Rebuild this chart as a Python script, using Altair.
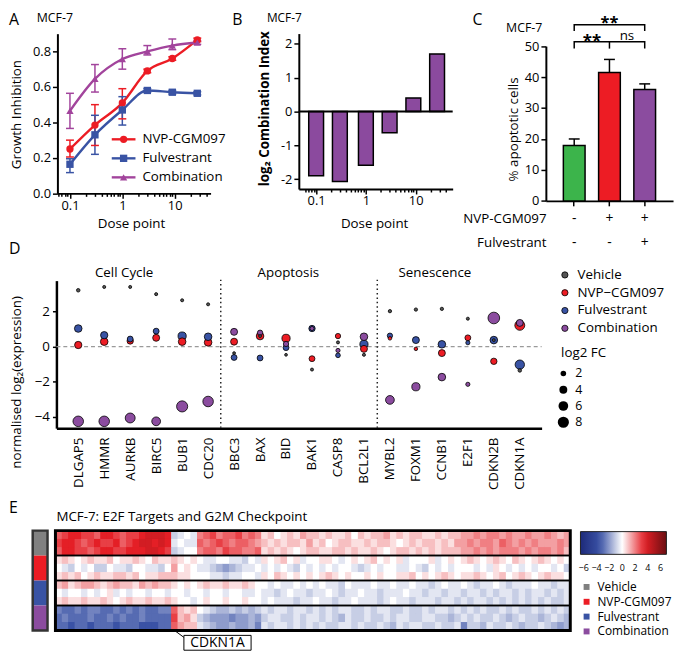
import altair as alt
import pandas as pd

OFF = 8
W, H = 677, 650
FONT = "Open Sans"


def P(v):
    return v - OFF


# ---------------- Panel A data ----------------
dose = [0.1, 0.3, 1, 3, 9, 27]
series = ["NVP-CGM097", "Fulvestrant", "Combination"]
series_colors = ["#ec1c24", "#3953a4", "#a2449c"]
series_shapes = ["circle", "square", "triangle-up"]
gi_nvp = [0.25, 0.385, 0.51, 0.69, 0.76, 0.865]
gi_nvp_lo = [0.205, 0.27, 0.42, 0.68, 0.75, 0.855]
gi_nvp_hi = [0.30, 0.50, 0.59, 0.70, 0.77, 0.875]
gi_ful = [0.164, 0.33, 0.47, 0.58, 0.57, 0.564]
gi_ful_lo = [0.117, 0.22, 0.385, 0.57, 0.56, 0.555]
gi_ful_hi = [0.195, 0.44, 0.545, 0.59, 0.58, 0.573]
gi_com = [0.465, 0.645, 0.757, 0.80, 0.833, 0.85]
gi_com_lo = [0.366, 0.571, 0.70, 0.78, 0.81, 0.84]
gi_com_hi = [0.564, 0.726, 0.815, 0.833, 0.87, 0.86]

# ---------------- Panel B data ----------------
ci_dose = [0.1, 0.3, 1, 3, 9, 27]
log2_ci = [-1.90, -2.07, -1.59, -0.63, 0.40, 1.70]

# ---------------- Panel C data ----------------
apo_groups = ["Vehicle", "NVP-CGM097", "Combination"]
apo_mean = [17.9, 41.5, 36.0]
apo_hi = [20.0, 45.7, 37.8]
apo_colors = ["#3cb44b", "#ed1c24", "#8b4c9f"]
nvp_sign = ["-", "+", "+"]
ful_sign = ["-", "-", "+"]
br_id = [0, 0, 0, 0, 1, 1, 1, 1]
br_group = ["Vehicle", "Vehicle", "Combination", "Combination",
            "Vehicle", "Vehicle", "Combination", "Combination"]
br_y = [54.9, 56.9, 56.9, 54.9, 49.2, 51.4, 51.4, 49.2]
br_ord = [0, 1, 2, 3, 0, 1, 2, 3]

# ---------------- Panel D data ----------------
genes = ["DLGAP5", "HMMR", "AURKB", "BIRC5", "BUB1", "CDC20",
         "BBC3", "BAX", "BID", "BAK1", "CASP8", "BCL2L1",
         "MYBL2", "FOXM1", "CCNB1", "E2F1", "CDKN2B", "CDKN1A"]
cond_d = ["Vehicle", "NVP\u2212CGM097", "Fulvestrant", "Combination"]
cond_d_colors = ["#555555", "#ed1c24", "#3953a4", "#8b4c9f"]
veh_expr = [3.21, 3.40, 3.40, 2.99, 2.64, 2.41, -0.37, 0.60, -0.47, -1.31, 0.24, -0.47,
            2.02, 2.11, 2.15, 1.59, 0.37, -1.36]
veh_fc = [0.8, 0.6, 0.6, 0.6, 0.6, 0.6, 0.5, 0.5, 0.5, 0.6, 0.6, 0.6,
          0.7, 0.7, 0.7, 0.6, 0.5, 0.8]
nvp_expr = [0.09, 0.28, 0.32, 0.50, 0.28, 0.24, 0.28, 0.60, 0.47, -0.69, 0.60, -0.13,
            0.47, -0.13, -0.37, 0.50, -0.84, 1.21]
nvp_fc = [3.4, 3.7, 2.6, 3.1, 3.7, 3.7, 3.1, 3.7, 4.3, 2.2, 1.8, 3.1,
          0.8, 0.8, 3.1, 2.2, 2.6, 6.3]
ful_expr = [1.03, 0.65, 0.43, 0.88, 0.60, 0.56, -0.62, -0.65, -0.06, 1.03, -0.50, 0.13,
            0.62, 0.37, 0.13, 0.22, 0.37, -1.03]
ful_fc = [3.7, 3.4, 2.2, 2.2, 4.3, 3.7, 2.2, 2.2, 2.2, 2.6, 1.4, 4.3,
          1.8, 3.1, 3.7, 1.1, 3.7, 5.6]
com_expr = [-4.26, -4.26, -4.07, -4.26, -3.41, -3.13, 0.84, 0.79, 0.15, 1.03, -0.22, 0.56,
            -3.04, -2.29, -1.74, -2.15, 1.63, 1.35]
com_fc = [7.1, 7.1, 6.3, 4.9, 7.9, 7.1, 3.1, 1.8, 1.8, 1.1, 1.1, 3.7,
          4.9, 4.3, 3.7, 1.1, 8.7, 3.1]
size_legend_values = [2, 4, 6, 8]

# ---------------- Panel E data ----------------
# one letter per gene column, a=-4 ... i=0 ... q=+4 (steps of 0.5)
heat_vehicle_1 = "noppoonpponoopqqqp g hih mnomnnomnm jkijkjlk kjkjjkik jkkljkjk kjjkjkkl lmlmmlml lmllmlkl"
heat_vehicle_2 = "opponopoopnopqqpqp h ihh nmnonmnnml kjkjkkjl jkijkkjj kjkkjijk jkkjkjll mlmmlnml mlmlllml"
heat_vehicle_3 = "nppoonoppoopppqqpo g hii mnnmonnmmn jkjkjijk kjjkkjkj jkjijkkj kjkjkkkl lmlmlmmm lmlmmlmk"
heat_nvp_1 = "jkjijkjjkijjkjikjj k jij ihhiihhgih jijkijhi ijjihiji jkijijhi iijhijij kjijkjik jijkjiji"
heat_nvp_2 = "ihgihiggihhgiihhgi l iji hhgfefghhi hihihgih ihihiihg hihiihhi hgihihii ihihjihi hihiihig"
heat_nvp_3 = "jkjkijkjjkkjkijjkk k jji iihhghhiih jikjijij ijkjijii jijiijjk ijijkjij jkjijkij kjijkjji"
heat_ful_1 = "kljkllkjklkkjlklkk j iji jkjjkjjkji ihihhihi hihhgihh hihhihhi hhghihhi hghhihgh hhihhghh"
heat_ful_2 = "ihiihihijhihiihiih i ihi ihiihiihhi hhghihhg hhihghhi hhghhhih hghhghhg hhghghhg hghhghgh"
heat_ful_3 = "jkjjkjjkjijkjjkjjk j iih ijiijiijii hihhhghh ihhghhih hhghihhg hhhghhgh ghhghghg hghghggh"
heat_com_1 = "dccdcddccdcdcdccdd n kjk ihgffgfgfg hghhghhg hghghhgg hghhgghg ghghhghg hghgghgh gghghghg"
heat_com_2 = "cdcccdccdcdccdcccc o klj gfeeedeefe ghhgghgh hghgfhgg hgghghhg ghhggfgh ghgghgfg hggfghgf"
heat_com_3 = "ccbccbcccbcccbbbcc n lkk hgfeefeefd hghhghgh ghgghhgh gghgfhgh hgghgghd ggfhgghg fgghgfef"
heat_rows = [heat_vehicle_1, heat_vehicle_2, heat_vehicle_3,
             heat_nvp_1, heat_nvp_2, heat_nvp_3,
             heat_ful_1, heat_ful_2, heat_ful_3,
             heat_com_1, heat_com_2, heat_com_3]
n_heat_cols = 80
cdkn1a_col = 18
cond_e = ["Vehicle", "NVP-CGM097", "Fulvestrant", "Combination"]
cond_e_colors = ["#808080", "#ec1c24", "#3953a4", "#8b4c9f"]
group_start = [0, 3, 6, 9]
group_end = [3, 6, 9, 12]
heat_legend_values = [-6, -4, -2, 0, 2, 4, 6]

# ---------------- tables ----------------
one = pd.DataFrame({"k": [0]})

recs = []
for s, m, lo, hi in [("NVP-CGM097", gi_nvp, gi_nvp_lo, gi_nvp_hi),
                     ("Fulvestrant", gi_ful, gi_ful_lo, gi_ful_hi),
                     ("Combination", gi_com, gi_com_lo, gi_com_hi)]:
    for d, a, b, c in zip(dose, m, lo, hi):
        recs.append({"series": s, "dose": d, "gi": a, "lo": b, "hi": c})
dfA = pd.DataFrame(recs)
dfL = pd.DataFrame({"series": series})
dfB = pd.DataFrame({"dose": ci_dose, "ci": log2_ci})
dfC = pd.DataFrame({"group": apo_groups, "mean": apo_mean, "hi": apo_hi,
                    "nvp": nvp_sign, "ful": ful_sign})
dfBr = pd.DataFrame({"id": br_id, "group": br_group, "y": br_y, "o": br_ord})

recs = []
for c, vals, fcs in zip(cond_d, [veh_expr, nvp_expr, ful_expr, com_expr],
                        [veh_fc, nvp_fc, ful_fc, com_fc]):
    for g, v, f in zip(genes, vals, fcs):
        recs.append({"gene": g, "cond": c, "expr": v, "fc": f})
dfD = pd.DataFrame(recs)
dfS = pd.DataFrame({"fc": size_legend_values, "lab": [str(v) for v in size_legend_values]})

recs = []
for r, row in enumerate(heat_rows):
    letters = "".join(row.split())
    for ci, ch in enumerate(letters):
        recs.append({"col": ci, "col2": ci + 1, "row": r, "row2": r + 1,
                     "v": (ord(ch) - ord("i")) * 0.5})
dfH = pd.DataFrame(recs)
dfG = pd.DataFrame({"cond": cond_e, "g0": group_start, "g1": group_end,
                    "x0": [0] * 4, "x1": [n_heat_cols] * 4})

L = []


def txt(s, x, y, size=13.5, align="left", weight="normal", angle=0, baseline="middle"):
    return alt.Chart(one).mark_text(text=s, align=align, baseline=baseline, fontSize=size,
                                    fontWeight=weight, angle=angle, font=FONT,
                                    color="black").encode(x=alt.value(P(x)), y=alt.value(P(y)))


# ---------------- Panel A ----------------
log_ticks = [0.06, 0.07, 0.08, 0.09, 0.1, 0.2, 0.3, 0.4, 0.5, 0.6, 0.7, 0.8, 0.9,
             1, 2, 3, 4, 5, 6, 7, 8, 9, 10, 20, 30, 40]
MAJOR = "datum.value == 0.1 || datum.value == 1 || datum.value == 10"


def log_axis(ypage):
    return alt.Axis(orient="bottom", offset=P(ypage) - H, values=log_ticks,
                    labelExpr="(" + MAJOR + ") ? (datum.value < 1 ? '0.1' : format(datum.value, 'd')) : ''",
                    tickSize={"condition": {"test": MAJOR, "value": 5}, "value": 3},
                    labelPadding=1, title=None, domainWidth=2, tickWidth=1.5,
                    labelFontSize=13)


xA = alt.Scale(type="log", domain=[0.0576, 48.4], range=[P(58), P(213)])
yA = alt.Scale(domain=[0, 0.9], range=[P(191.7), P(30.1)])
colA = alt.Scale(domain=series, range=series_colors)
shpA = alt.Scale(domain=series, range=series_shapes)
xA_ax = alt.X("dose:Q", scale=xA, axis=log_axis(191.7))
xA_no = alt.X("dose:Q", scale=xA, axis=None)
yA_ax = alt.Y("gi:Q", scale=yA, axis=alt.Axis(orient="left", offset=-P(58),
                                               values=[0, 0.2, 0.4, 0.6, 0.8], format=".1f",
                                               tickSize=5, labelPadding=2, title=None,
                                               domainWidth=2, tickWidth=1.5, labelFontSize=13))
colA_enc = alt.Color("series:N", scale=colA, legend=None)
shpA_enc = alt.Shape("series:N", scale=shpA, legend=None)
baseA = alt.Chart(dfA)
L.append(baseA.mark_line(strokeWidth=2.4, interpolate="monotone").encode(
    x=xA_ax, y=yA_ax, color=colA_enc))
L.append(baseA.mark_rule(strokeWidth=1.5).encode(
    x=xA_no, y=alt.Y("lo:Q", scale=yA, axis=None), y2="hi:Q", color=colA_enc))
for f in ["lo", "hi"]:
    L.append(baseA.mark_point(shape="stroke", size=64, strokeWidth=1.5, opacity=1).encode(
        x=xA_no, y=alt.Y(f + ":Q", scale=yA, axis=None), color=colA_enc))
L.append(baseA.mark_point(filled=True, size=55, opacity=1).encode(
    x=xA_no, y=alt.Y("gi:Q", scale=yA, axis=None), color=colA_enc, shape=shpA_enc))

# legend of A
yL = alt.Scale(type="point", domain=series, range=[P(137), P(175.5)], padding=0)
yL_enc = alt.Y("series:N", scale=yL, axis=None)
L.append(alt.Chart(dfL).mark_rule(strokeWidth=2.4).encode(
    x=alt.value(P(113)), x2=alt.value(P(137)), y=yL_enc, color=colA_enc))
L.append(alt.Chart(dfL).mark_point(filled=True, size=55, opacity=1).encode(
    x=alt.value(P(125)), y=yL_enc, color=colA_enc, shape=shpA_enc))
L.append(alt.Chart(dfL).mark_text(align="left", baseline="middle", fontSize=13.5, font=FONT,
                                  color="black").encode(
    x=alt.value(P(144)), y=yL_enc, text="series:N"))

# ---------------- Panel B ----------------
xB = alt.Scale(type="log", domain=[0.0564, 44.2], range=[P(302.3), P(458)])
yB = alt.Scale(domain=[-2.29, 2.3], range=[P(187.3), P(30)])
L.append(alt.Chart(dfB).mark_bar(size=15, fill="#8b4a9e", stroke="black", strokeWidth=1.5).encode(
    x=alt.X("dose:Q", scale=xB, axis=log_axis(187.3)),
    y=alt.Y("ci:Q", scale=yB, axis=alt.Axis(orient="left", offset=-P(302.3), values=[-2, -1, 0, 1, 2],
                                            labelExpr="'' + datum.value", tickSize=5, labelPadding=2,
                                            title=None, domainWidth=2, tickWidth=1.5, labelFontSize=13))))
L.append(alt.Chart(one).mark_rule(strokeWidth=2, color="black").encode(
    y=alt.YDatum(0, scale=yB, axis=None), x=alt.value(P(302.3)), x2=alt.value(P(458))))

# ---------------- Panel C ----------------
xC = alt.Scale(type="band", domain=apo_groups, range=[P(552.3), P(681)],
               paddingInner=0.384, paddingOuter=0.496)
yC = alt.Scale(domain=[0, 50], range=[P(199.3), P(42.7)])
xCn = alt.X("group:N", scale=xC, axis=None)
L.append(alt.Chart(dfC).mark_bar(stroke="black", strokeWidth=1.5).encode(
    x=alt.X("group:N", scale=xC, axis=alt.Axis(orient="bottom", offset=P(199.3) - H, labels=False,
                                               tickSize=5, title=None, domainWidth=2, tickWidth=1.5)),
    y=alt.Y("mean:Q", scale=yC, axis=alt.Axis(orient="left", offset=-P(552.3),
                                              values=[0, 10, 20, 30, 40, 50], tickSize=5,
                                              labelPadding=2, title=None, domainWidth=2,
                                              tickWidth=1.5, labelFontSize=13)),
    color=alt.Color("group:N", scale=alt.Scale(domain=apo_groups, range=apo_colors), legend=None)))
L.append(alt.Chart(dfC).mark_rule(strokeWidth=1.5, color="black").encode(
    x=xCn, y=alt.Y("mean:Q", scale=yC, axis=None), y2="hi:Q"))
L.append(alt.Chart(dfC).mark_point(shape="stroke", size=121, strokeWidth=1.5, color="black",
                                   opacity=1).encode(
    x=xCn, y=alt.Y("hi:Q", scale=yC, axis=None)))
L.append(alt.Chart(dfBr).mark_line(strokeWidth=1.5, color="black").encode(
    x=alt.X("group:N", scale=xC, axis=None), y=alt.Y("y:Q", scale=yC, axis=None),
    detail="id:N", order="o:Q"))
L.append(alt.Chart(one).mark_rule(strokeWidth=1.5, color="black").encode(
    x=alt.XDatum("NVP-CGM097", scale=xC, axis=None),
    y=alt.YDatum(49.2, scale=yC, axis=None), y2=alt.Y2Datum(51.4)))
for lab, anchor, yv, dx, fs, fw in [("**", "NVP-CGM097", 55.8, 0, 16.5, "bold"),
                                    ("**", "Vehicle", 50.2, 18, 17, "bold"),
                                    ("ns", "Combination", 52.0, -18, 13.5, "normal")]:
    L.append(alt.Chart(one).mark_text(text=lab, fontSize=fs, fontWeight=fw, dx=dx,
                                      baseline="alphabetic", font=FONT, color="black").encode(
        x=alt.XDatum(anchor, scale=xC, axis=None), y=alt.YDatum(yv, scale=yC, axis=None)))
L.append(alt.Chart(dfC).mark_text(fontSize=14, baseline="middle", font=FONT, color="black").encode(
    x=xCn, y=alt.value(P(218)), text="nvp:N"))
L.append(alt.Chart(dfC).mark_text(fontSize=14, baseline="middle", font=FONT, color="black").encode(
    x=xCn, y=alt.value(P(242)), text="ful:N"))

# ---------------- Panel D ----------------
xD = alt.Scale(type="point", domain=genes, range=[P(57), P(548)], padding=0.84)
yD = alt.Scale(domain=[-4.65, 3.76], range=[P(429.3), P(280)])
sizeD = alt.Scale(domain=[0, 8], range=[0, 128])
L.append(alt.Chart(one).mark_rule(strokeDash=[4, 3], color="#9a9a9a", strokeWidth=1.2).encode(
    y=alt.YDatum(0, scale=yD, axis=None), x=alt.value(P(57)), x2=alt.value(P(548))))
for sx in [223.3, 381.7]:
    L.append(alt.Chart(one).mark_rule(strokeDash=[1.5, 3], color="#222222", strokeWidth=1.5).encode(
        x=alt.value(P(sx)), y=alt.value(P(279)), y2=alt.value(P(429))))
L.append(alt.Chart(dfD).mark_circle(stroke="black", strokeWidth=0.8, opacity=1).encode(
    x=alt.X("gene:N", scale=xD, axis=alt.Axis(orient="bottom", offset=P(429.3) - H, ticks=False,
                                              labelAngle=-90, labelPadding=9, labelFontSize=13.5,
                                              title=None, domainWidth=2.5)),
    y=alt.Y("expr:Q", scale=yD, axis=alt.Axis(orient="left", offset=-P(57), values=[-4, -2, 0, 2],
                                              tickSize=4, labelPadding=3, title=None,
                                              domainWidth=2.5, tickWidth=1.5, labelFontSize=13.5)),
    color=alt.Color("cond:N", scale=alt.Scale(domain=cond_d, range=cond_d_colors),
                    legend=alt.Legend(orient="none", legendX=P(564.8), legendY=P(267.5), title=None,
                                      symbolType="circle", symbolSize=40, symbolStrokeColor="black",
                                      symbolStrokeWidth=0.8, labelFontSize=13.5, rowPadding=3,
                                      labelOffset=6, padding=0)),
    size=alt.Size("fc:Q", scale=sizeD, legend=None),
    order=alt.Order("fc:Q", sort="descending")))
# size key of D
yS = alt.Scale(type="point", domain=size_legend_values, range=[P(374), P(423.3)], padding=0)
L.append(alt.Chart(dfS).mark_circle(color="black", opacity=1).encode(
    x=alt.value(P(570)), y=alt.Y("fc:O", scale=yS, axis=None),
    size=alt.Size("fc:Q", scale=sizeD, legend=None)))
L.append(alt.Chart(dfS).mark_text(align="left", baseline="middle", fontSize=12.5, font=FONT,
                                  color="black").encode(
    x=alt.value(P(582)), y=alt.Y("fc:O", scale=yS, axis=None), text="lab:N"))

# ---------------- Panel E ----------------
xH = alt.Scale(domain=[0, n_heat_cols], range=[P(56), P(577)])
yH = alt.Scale(domain=[0, 12], range=[P(533), P(634)])
colH = alt.Scale(domain=[-6.5, -3.5, 0, 3.5, 6.9],
                 range=["#1d2a7a", "#3a52a5", "#ffffff", "#e41f26", "#6b0f12"], interpolate="rgb")
heat_x = alt.X("col:Q", scale=xH, axis=None)
heat_y = alt.Y("row:Q", scale=yH, axis=None)
# underlay with matching outlines (hides hairline seams between cells)
L.append(alt.Chart(dfH).mark_rect(strokeWidth=1).encode(
    x=heat_x, x2="col2:Q", y=heat_y, y2="row2:Q",
    color=alt.Color("v:Q", scale=colH, legend=None),
    stroke=alt.Stroke("v:Q", scale=colH, legend=None)))
L.append(alt.Chart(dfH).mark_rect().encode(
    x=heat_x, x2="col2:Q", y=heat_y, y2="row2:Q",
    color=alt.Color("v:Q", scale=colH,
                    legend=alt.Legend(type="gradient", orient="none", legendX=P(587.3), legendY=P(534),
                                      direction="horizontal", gradientLength=87, gradientThickness=23,
                                      title=None, values=heat_legend_values, labelFontSize=9,
                                      labelOverlap=False, gradientStrokeColor="#222222",
                                      gradientStrokeWidth=1, padding=0, labelOffset=10))))
L.append(alt.Chart(dfG).mark_rect(fillOpacity=0, stroke="black", strokeWidth=1.5).encode(
    x=alt.X("x0:Q", scale=xH, axis=None), x2="x1:Q",
    y=alt.Y("g0:Q", scale=yH, axis=None), y2="g1:Q"))
L.append(alt.Chart(one).mark_rect(fillOpacity=0, stroke="black", strokeWidth=3).encode(
    x=alt.XDatum(0, scale=xH, axis=None), x2=alt.X2Datum(n_heat_cols),
    y=alt.YDatum(0, scale=yH, axis=None), y2=alt.Y2Datum(12)))
L.append(alt.Chart(one).mark_rule(color="black", strokeWidth=1).encode(
    x=alt.XDatum(cdkn1a_col + 0.5, scale=xH, axis=None), y=alt.YDatum(12, scale=yH, axis=None),
    x2=alt.value(P(186)), y2=alt.value(P(641))))
# row annotation bar
L.append(alt.Chart(dfG).mark_rect().encode(
    x=alt.value(P(33)), x2=alt.value(P(48)),
    y=alt.Y("g0:Q", scale=yH, axis=None), y2="g1:Q",
    color=alt.Color("cond:N", scale=alt.Scale(domain=cond_e, range=cond_e_colors),
                    legend=alt.Legend(orient="none", legendX=P(587.5), legendY=P(584), title=None,
                                      symbolType="square", symbolSize=36, labelFontSize=12,
                                      rowPadding=3, labelOffset=5, padding=0,
                                      symbolStrokeWidth=0))))
L.append(alt.Chart(one).mark_rect(fillOpacity=0, stroke="#333333", strokeWidth=2.5).encode(
    x=alt.value(P(33)), x2=alt.value(P(48)), y=alt.value(P(533)), y2=alt.value(P(634))))
L.append(alt.Chart(one).mark_rect(fill="white", stroke="black", strokeWidth=1).encode(
    x=alt.value(P(186)), x2=alt.value(P(254)), y=alt.value(P(639)), y2=alt.value(P(654))))

# ---------------- text annotations ----------------
L += [
    txt("A", 9, 16.5, 16),
    txt("MCF-7", 37, 14.5, 12.5),
    txt("Growth Inhibition", 17, 112, 13.5, "center", angle=270),
    txt("Dose point", 133, 223, 13.5, "center"),
    txt("B", 235, 16.5, 16),
    txt("MCF-7", 270, 14.5, 12),
    txt("log\u2082 Combination Index", 268, 106, 13.5, "center", "bold", 270),
    txt("Dose point", 379, 223, 13.5, "center"),
    txt("C", 478, 16.5, 16),
    txt("MCF-7", 512, 24, 12.5),
    txt("% apoptotic cells", 520, 127, 13.5, "center", angle=270),
    txt("NVP-CGM097", 553, 218, 13.5, "right"),
    txt("Fulvestrant", 553, 242, 13.5, "right"),
    txt("D", 9, 248, 16),
    txt("Cell Cycle", 125.5, 272, 13.5, "center"),
    txt("Apoptosis", 291.7, 272, 13.5, "center"),
    txt("Senescence", 440, 272, 13.5, "center"),
    txt("normalised log\u2082(expression)", 17, 383, 13.5, "center", angle=270),
    txt("log2 FC", 567.7, 353, 13.5),
    txt("E", 9, 510, 16),
    txt("MCF-7: E2F Targets and G2M Checkpoint", 57, 519, 13.5),
    txt("CDKN1A", 220, 646.5, 14, "center"),
]

chart = alt.layer(*L).resolve_scale(
    x="independent", y="independent", color="independent", size="independent",
    shape="independent", stroke="independent"
).properties(
    width=W, height=H, autosize=alt.AutoSizeParams(type="none"), padding=0
).configure(font=FONT).configure_view(stroke=None).configure_axis(
    labelFont=FONT, labelColor="black", domainColor="black", tickColor="black",
    grid=False, labelFlush=False, labelOverlap=False
).configure_legend(labelFont=FONT, labelColor="black")

chart.save("out.html", embed_options={"renderer": "svg", "actions": False})
